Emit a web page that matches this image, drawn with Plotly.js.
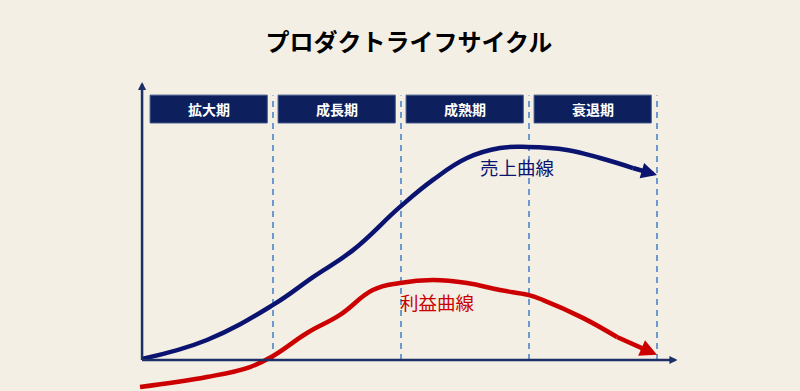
<!DOCTYPE html>
<html>
<head>
<meta charset="utf-8">
<script src="https://cdn.plot.ly/plotly-3.0.1.min.js"></script>
<style>html,body{margin:0;padding:0;background:#F3EFE4;}</style>
</head>
<body>
<div id="chart" style="width:800px;height:391px;"></div>
<script>
// Phases (x = 0..4, each phase one unit)
const phases = ["拡大期", "成長期", "成熟期", "衰退期"];
const phaseBounds = [1, 2, 3, 4];

// Sales curve (売上曲線)
const salesX = [-0.023, 0.484, 1.0, 1.3125, 1.625, 1.992, 2.25, 2.516, 2.773, 2.992, 3.297, 3.555, 3.8125, 4.0];
const salesY = [0.4, 7.4, 20.4, 30.7, 40.7, 56.7, 66.7, 74.8, 78.5, 78.9, 77.8, 74.8, 71.1, 68.5];

// Profit curve (利益曲線)
const profitX = [-0.039, 0.484, 0.82, 1.0, 1.266, 1.523, 1.78, 1.992, 2.25, 2.516, 2.773, 2.992, 3.11, 3.42, 3.6875, 4.0];
const profitY = [-10.0, -6.3, -2.6, 1.5, 10.0, 16.7, 25.9, 28.5, 29.6, 28.5, 25.9, 24.1, 22.2, 15.6, 8.5, 1.9];

const salesLabel = "売上曲線";
const profitLabel = "利益曲線";
const title = "プロダクトライフサイクル";

const axisOrigin = [-0.023, 0];
const axisXEnd = 4.16;
const axisYEnd = 103;

const NAVY = "#0b1370";
const RED = "#cc0000";
const AXIS = "#1c2f66";
const HEADER = "#0d1f5c";
const DASH = "#5f90cc";
const BG = "#F3EFE4";
const JP = '"Noto Sans CJK JP", "Noto Sans", sans-serif';

const traces = [];
// dashed phase boundaries
phaseBounds.forEach(b => {
  traces.push({x: [b, b], y: [0, 98], mode: "lines", line: {color: DASH, width: 1.8, dash: "6px,5px"}, hoverinfo: "skip"});
});
// curves (last segment drawn by arrow annotation)
traces.push({x: profitX.slice(0, -1), y: profitY.slice(0, -1), mode: "lines",
  line: {color: RED, width: 4.5, shape: "spline", smoothing: 1.2}, hoverinfo: "skip"});
traces.push({x: salesX.slice(0, -1), y: salesY.slice(0, -1), mode: "lines",
  line: {color: NAVY, width: 4.5, shape: "spline", smoothing: 1.2}, hoverinfo: "skip"});

const shapes = phases.map((p, i) => ({
  type: "rect", xref: "x", yref: "y", x0: i + 0.04, x1: i + 0.955, y0: 87.8, y1: 98.1,
  fillcolor: HEADER, line: {color: "#3a4f86", width: 1}, layer: "below"
}));

function arrowAnn(xs, ys, color, width, size) {
  const n = xs.length;
  return {x: xs[n - 1], y: ys[n - 1], ax: xs[n - 2], ay: ys[n - 2], xref: "x", yref: "y", axref: "x", ayref: "y",
    text: "", font: {size: 1}, borderpad: 0, borderwidth: 0,
    showarrow: true, arrowhead: 2, arrowsize: size, arrowwidth: width, arrowcolor: color, standoff: 0, startstandoff: 0};
}

const annotations = phases.map((p, i) => ({
  x: i + 0.5, y: 93, xref: "x", yref: "y", text: "<b>" + p + "</b>", showarrow: false,
  font: {family: JP, size: 14, color: "#ffffff"}
}));
annotations.push({x: 2.914, y: 71.5, xref: "x", yref: "y", text: salesLabel, showarrow: false,
  font: {family: JP, size: 18.5, color: NAVY}});
annotations.push({x: 2.289, y: 21.5, xref: "x", yref: "y", text: profitLabel, showarrow: false,
  font: {family: JP, size: 18.5, color: RED}});
// axes with arrows
annotations.push(arrowAnn([axisOrigin[0], axisXEnd], [axisOrigin[1], axisOrigin[1]], AXIS, 2.5, 0.65));
annotations.push(arrowAnn([axisOrigin[0], axisOrigin[0]], [axisOrigin[1], axisYEnd], AXIS, 2.5, 0.65));
// curve arrowheads
annotations.push(arrowAnn(profitX, profitY, RED, 4.5, 0.75));
annotations.push(arrowAnn(salesX, salesY, NAVY, 4.5, 0.7));

const layout = {
  width: 800, height: 391,
  margin: {l: 0, r: 0, t: 0, b: 0},
  paper_bgcolor: BG, plot_bgcolor: BG,
  showlegend: false,
  title: {text: "<b>" + title + "</b>", x: 0.511, xanchor: "center", y: 0.89, yanchor: "middle",
    font: {family: JP, size: 24, color: "#000000"}},
  xaxis: {range: [-145/128, 655/128], visible: false, fixedrange: true},
  yaxis: {range: [-31/2.7, 360/2.7], visible: false, fixedrange: true},
  shapes: shapes,
  annotations: annotations
};

Plotly.newPlot("chart", traces, layout, {displayModeBar: false, staticPlot: true});
</script>
</body>
</html>
